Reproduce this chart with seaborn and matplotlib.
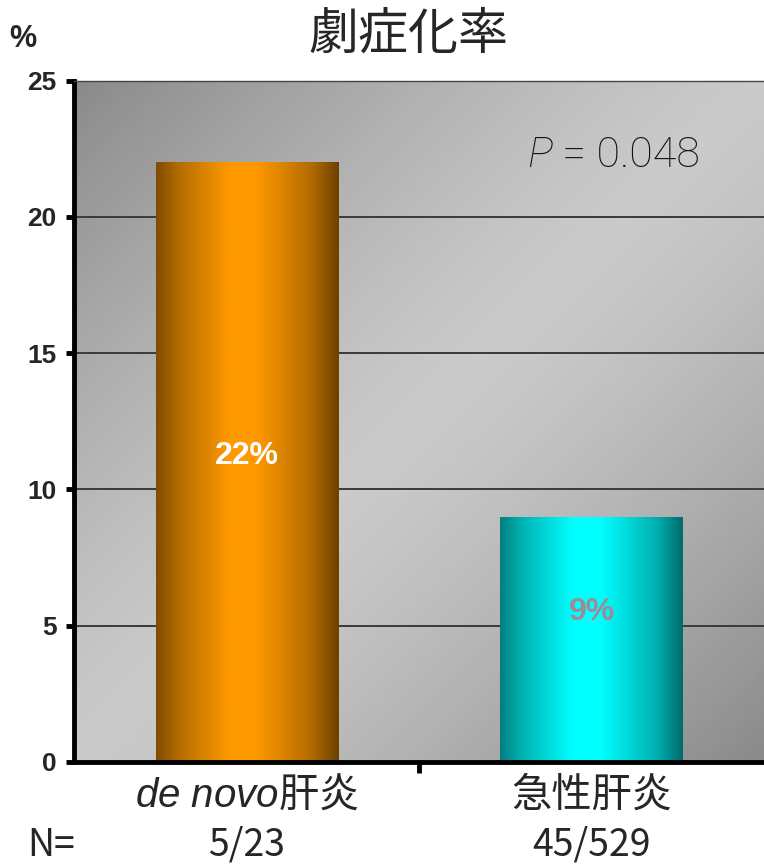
"""
plot.py — 劇症化率 bar chart (de novo肝炎 vs 急性肝炎) with shaded bars.
"""

import numpy as np

import matplotlib
matplotlib.use("Agg")
import matplotlib.pyplot as plt
import matplotlib.transforms as mtransforms
from matplotlib import font_manager
from matplotlib.colors import to_rgb

import seaborn as sns

# ── Data ──────────────────────────────────────────────────────────────────────
categories = [r"$\it{de\ novo}$肝炎", "急性肝炎"]
rates      = [22, 9]          # %
events     = [5, 45]
totals     = [23, 529]
p_value    = 0.048
y_ticks    = [0, 5, 10, 15, 20, 25]

# ── Style ─────────────────────────────────────────────────────────────────────
bar_colors   = ["#ff9900", "#00ffff"]
value_colors = ["white", "#a08a94"]
value_frac   = [0.51, 0.61]   # where the % label sits, as share of bar height

sns.set_style("white")
plt.rcParams["font.family"] = ["Noto Sans CJK JP", "DejaVu Sans"]
plt.rcParams["mathtext.fontset"] = "custom"
plt.rcParams["mathtext.it"] = "Liberation Sans:italic"
plt.rcParams["mathtext.rm"] = "Liberation Sans"

installed = {f.name for f in font_manager.fontManager.ttflist}
narrow = "Liberation Sans Narrow" if "Liberation Sans Narrow" in installed else "Liberation Sans"

fig = plt.figure(figsize=(7.64, 8.66), dpi=100)
ax = fig.add_axes([0.0975, 0.1201, 0.9025, 0.7869])

# background: light along the diagonal, darker toward top-left / bottom-right
gx, gy = np.meshgrid(np.linspace(0, 1, 200), np.linspace(0, 1, 200))
bg = 0.79 - 0.25 * np.abs(gx - gy) ** 1.3
ax.imshow(bg, cmap="gray", vmin=0, vmax=1, extent=(0, 1, 0, 1),
          transform=ax.transAxes, origin="lower", aspect="auto", zorder=0)

sns.barplot(x=categories, y=rates, hue=categories, palette=bar_colors,
            width=0.53, saturation=1, legend=False, linewidth=0,
            edgecolor="none", ax=ax)

# cylinder-like shading on each bar
xs = np.linspace(0, 1, 256)
shade = np.interp(xs, [0, 0.12, 0.4, 0.55, 0.85, 1], [0.5, 0.7, 1, 1, 0.7, 0.42])
for patch, col in zip(ax.patches, bar_colors):
    rgb = np.array(to_rgb(col))
    img = shade[None, :, None] * rgb[None, None, :]
    x0, y0 = patch.get_x(), patch.get_y()
    w, h = patch.get_width(), patch.get_height()
    im = ax.imshow(img, extent=(x0, x0 + w, y0, y0 + h), aspect="auto",
                   interpolation="bicubic", zorder=patch.get_zorder() + 0.1)
    im.set_clip_path(patch)

ax.set_xlim(-0.5, 1.5)
ax.set_ylim(0, 25)

# ── Axes cosmetics ────────────────────────────────────────────────────────────
ax.set_axisbelow(True)
ax.yaxis.grid(True, color="#3a3a3a", lw=1.4)
ax.xaxis.grid(False)

for side in ("left", "bottom"):
    ax.spines[side].set_linewidth(3.5)
    ax.spines[side].set_color("black")
ax.spines["top"].set_linewidth(1)
ax.spines["top"].set_color("#444444")
ax.spines["right"].set_visible(False)

ax.set_yticks(y_ticks)
ax.tick_params(axis="y", direction="out", length=6, width=3.5, pad=7,
               labelsize=19, color="black", left=True)
for lbl in ax.get_yticklabels():
    lbl.set_fontfamily(narrow)
    lbl.set_fontweight("bold")

ax.set_xticks([0.5])
ax.set_xticklabels([])
ax.tick_params(axis="x", direction="out", length=8, width=3.5, color="black", bottom=True)
ax.set_xlabel("")
ax.set_ylabel("")

# ── Labels ────────────────────────────────────────────────────────────────────
for i, v in enumerate(rates):
    ax.text(i, v * value_frac[i], f"{v}%", ha="center", va="center",
            fontsize=23, fontweight="bold", family="Liberation Sans",
            color=value_colors[i], zorder=5)

trans = mtransforms.blended_transform_factory(ax.transData, fig.transFigure)
for i, cat in enumerate(categories):
    ax.text(i, 1 - 795 / 866, cat, ha="center", va="center", fontsize=29,
            transform=trans)
    ax.text(i, 1 - 845 / 866, f"{events[i]}/{totals[i]}", ha="center",
            va="center", fontsize=27, transform=trans)
fig.text(51 / 764, 1 - 845 / 866, "N=", ha="center", va="center", fontsize=27)

fig.text(408 / 764, 1 - 35 / 866, "劇症化率", ha="center", va="center", fontsize=36)
fig.text(23 / 764, 1 - 39 / 866, "%", ha="center", va="center", fontsize=22,
         fontweight="bold", family=narrow)

p_txt = ax.text(0.656, 0.873, "P", style="italic", fontsize=31, family="Roboto",
                fontweight="light", color="#111111", transform=ax.transAxes,
                va="baseline", zorder=5)
ax.annotate(f" = {p_value}", xy=(1, 0), xycoords=p_txt, va="bottom", ha="left",
            fontsize=31, family="Roboto", fontweight="light", color="#111111",
            zorder=5)

fig.savefig("out.png", dpi=100)
